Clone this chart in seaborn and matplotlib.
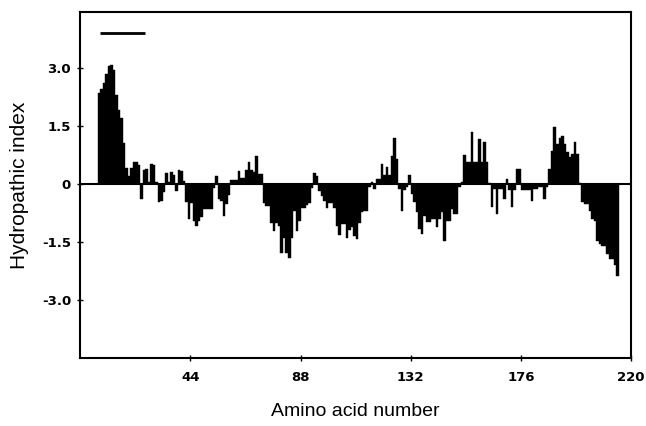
import numpy as np
import pandas as pd
import seaborn as sns
import matplotlib
matplotlib.use("Agg")
import matplotlib.pyplot as plt

# Hydropathic index per residue (1..220)
hydropathy = [
    0, 0, 0, 0, 0, 0, 0, 2.35, 2.45, 2.6,                                    # 1-10
    2.85, 3.05, 3.08, 2.95, 2.3, 1.9, 1.7, 1.05, 0.4, 0.2,                   # 11-20
    0.4, 0.58, 0.58, 0.5, -0.4, 0.35, 0.38, 0.05, 0.52, 0.5,                 # 21-30
    0.05, -0.47, -0.45, -0.2, 0.28, 0.05, 0.3, 0.22, -0.18, 0.35,            # 31-40
    0.33, 0.08, -0.47, -0.9, -0.5, -0.95, -1.08, -0.95, -0.85, -0.65,        # 41-50
    -0.65, -0.65, -0.65, -0.1, 0.2, -0.4, -0.45, -0.84, -0.53, -0.28,        # 51-60
    0.09, 0.09, 0.1, 0.33, 0.15, 0.15, 0.35, 0.57, 0.37, 0.3,                # 61-70
    0.72, 0.26, 0.26, -0.49, -0.58, -0.58, -1.0, -1.22, -1.0, -1.1,          # 71-80
    -1.78, -1.4, -1.78, -1.91, -1.4, -0.7, -1.22, -0.97, -0.62, -0.62,       # 81-90
    -0.55, -0.49, -0.1, 0.28, 0.2, -0.19, -0.32, -0.45, -0.62, -0.49,        # 91-100
    -0.49, -0.62, -1.09, -1.31, -1.05, -1.05, -1.4, -1.2, -1.12, -1.34,      # 101-110
    -1.42, -1.0, -0.73, -0.69, -0.69, -0.09, 0.04, -0.13, 0.13, 0.13,        # 111-120
    0.52, 0.22, 0.43, 0.22, 0.73, 1.18, 0.65, -0.13, -0.69, -0.17,           # 121-130
    -0.09, 0.22, -0.26, -0.47, -0.73, -1.16, -1.29, -0.82, -0.99, -0.99,     # 131-140
    -0.9, -0.9, -1.12, -0.9, -0.73, -1.47, -0.95, -0.95, -0.65, -0.78,       # 141-150
    -0.78, -0.09, 0.04, 0.75, 0.58, 0.58, 1.34, 0.58, 0.58, 1.16,            # 151-160
    0.56, 1.08, 0.56, 0.02, -0.6, -0.13, -0.78, -0.13, -0.13, -0.39,         # 161-170
    0.13, -0.17, -0.6, -0.17, 0.39, 0.39, -0.17, -0.17, -0.17, -0.17,        # 171-180
    -0.43, -0.13, -0.13, -0.09, -0.09, -0.4, -0.09, 0.39, 0.86, 1.47,        # 181-190
    1.03, 1.18, 1.25, 1.03, 0.82, 0.69, 0.78, 1.08, 0.78, 0.03,              # 191-200
    -0.47, -0.52, -0.52, -0.69, -0.9, -0.95, -1.47, -1.55, -1.6, -1.6,       # 201-210
    -1.81, -1.94, -1.94, -2.1, -2.37, 0, 0, 0, 0, 0,                         # 211-220
]
residue = np.arange(1, len(hydropathy) + 1)

# signal peptide marker (residue span, height)
signal_start, signal_end, signal_y = 8, 26, 3.9

x_ticks = [44, 88, 132, 176, 220]
y_ticks = [3.0, 1.5, 0, -1.5, -3.0]
y_tick_labels = ["3.0", "1.5", "0", "-1.5", "-3.0"]

df = pd.DataFrame({"residue": residue - 0.5, "hydropathy": hydropathy})

sns.set_style("white")
plt.rcParams["font.family"] = ["Liberation Sans", "DejaVu Sans"]
plt.rcParams["text.color"] = "black"
plt.rcParams["axes.labelcolor"] = "black"

fig = plt.figure(figsize=(6.46, 4.26), dpi=100)
ax = fig.add_axes([0.124, 0.160, 0.853, 0.812])

sns.barplot(data=df, x="residue", y="hydropathy", native_scale=True,
            width=1.0, color="black", edgecolor="black", linewidth=0.3,
            errorbar=None, ax=ax, saturation=1)

ax.axhline(0, color="black", linewidth=1.5)
ax.hlines(signal_y, signal_start, signal_end, color="black", linewidth=2)

ax.set_xlim(0, 220)
ax.set_ylim(-4.5, 4.45)
ax.set_xticks(x_ticks)
ax.set_xticklabels([str(t) for t in x_ticks])
ax.set_yticks(y_ticks)
ax.set_yticklabels(y_tick_labels)
for lab in ax.get_xticklabels() + ax.get_yticklabels():
    lab.set_family("DejaVu Sans")
    lab.set_fontweight("bold")
    lab.set_fontsize(9.5)
    lab.set_color("black")
ax.tick_params(bottom=True, left=True, direction="inout", length=5,
               width=1, color="black")
ax.tick_params(axis="y", pad=4)
ax.tick_params(axis="x", pad=7)

for side in ax.spines.values():
    side.set_color("black")
    side.set_linewidth(1.5)

ax.set_xlabel("Amino acid number", fontsize=14, labelpad=14)
ax.set_ylabel("Hydropathic index", fontsize=15, labelpad=9)

fig.savefig("out.png", dpi=100)
